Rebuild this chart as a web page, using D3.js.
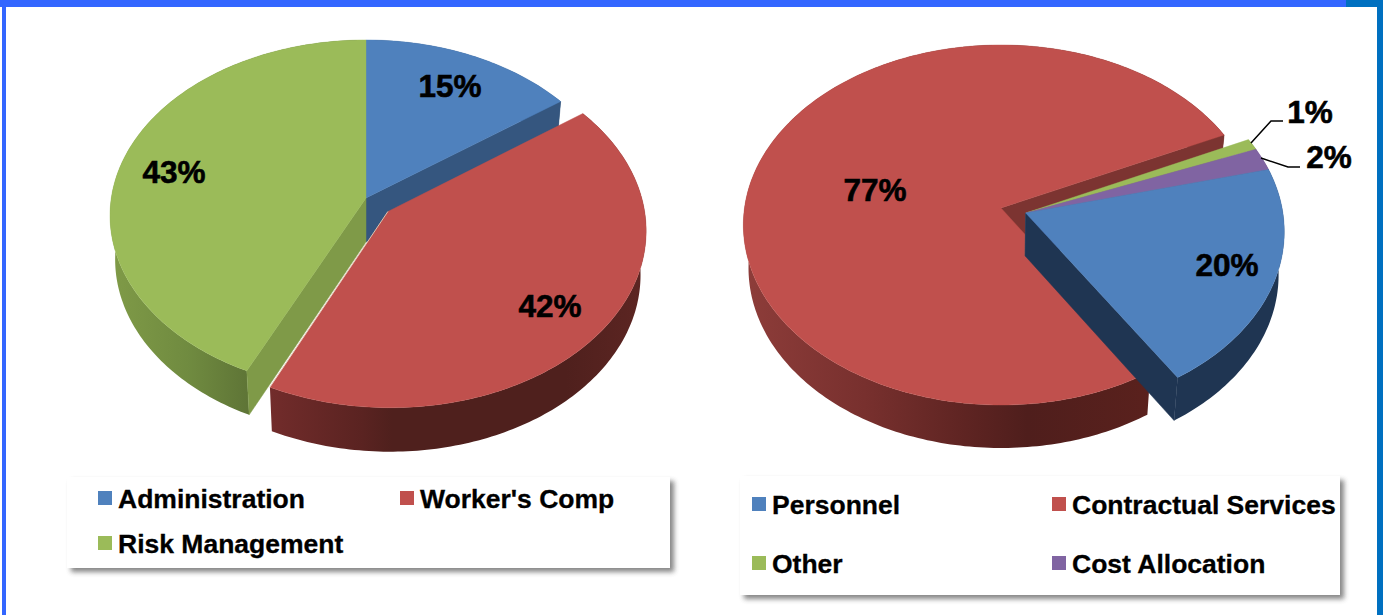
<!DOCTYPE html>
<html>
<head>
<meta charset="utf-8">
<script src="https://cdn.jsdelivr.net/npm/d3@7"></script>
<style>
html,body{margin:0;padding:0;background:#fff;overflow:hidden}
text{font-family:"Liberation Sans",Arial,sans-serif;font-weight:700;fill:#000;stroke:#000}
</style>
</head>
<body>
<svg id="chart" width="1387" height="615"></svg>
<script>
// ---- data ----
const fundCategories = ["Administration", "Worker's Comp", "Risk Management"];
const fundValues = [15, 42, 43];
const expenseCategories = ["Personnel", "Contractual Services", "Other", "Cost Allocation"];
const expenseValues = [20, 77, 1, 2];
const tickLabelSuffix = "%";

// ---- styles ----
const fundColors = ["#4f81bd", "#c0504d", "#9bbb59"];
const expenseColors = ["#4f81bd", "#c0504d", "#9bbb59", "#8064a2"];

const deg = Math.PI / 180;
const svg = d3.select("#chart");
const defs = svg.append("defs");

const shadow = defs.append("filter").attr("id", "shadow")
  .attr("x", "-5%").attr("y", "-10%").attr("width", "110%").attr("height", "125%");
shadow.append("feGaussianBlur").attr("stdDeviation", 2.6);

// page frame
svg.append("rect").attr("x", 2).attr("y", 0).attr("width", 4).attr("height", 615).attr("fill", "#3366ff");
svg.append("rect").attr("x", 0).attr("y", 0).attr("width", 1346).attr("height", 7).attr("fill", "#3366ff");
svg.append("rect").attr("x", 1346).attr("y", 0).attr("width", 37).attr("height", 7).attr("fill", "#0070c0");
svg.append("rect").attr("x", 1377).attr("y", 0).attr("width", 6).attr("height", 615).attr("fill", "#0070c0");

function gradient(id, x1, x2, stops) {
  const g = defs.append("linearGradient").attr("id", id)
    .attr("gradientUnits", "userSpaceOnUse")
    .attr("x1", x1).attr("x2", x2).attr("y1", 0).attr("y2", 0);
  stops.forEach(s => g.append("stop").attr("offset", s[0]).attr("stop-color", s[1]));
  return `url(#${id})`;
}

const lineGen = d3.line();

// Draws one 3D pie: the circle is projected with a perspective divide, so the near half looks larger.
function drawPie(cfg) {
  const pieGen = d3.pie().sort(null).value(d => d.value)
    .startAngle(cfg.start * deg).endAngle(cfg.start * deg + 2 * Math.PI);
  const arcs = pieGen(cfg.names.map((n, i) => ({name: n, value: cfg.values[i], index: i})));
  const color = d3.scaleOrdinal().domain(cfg.names).range(cfg.colors);
  const g = svg.append("g");

  const project = (X, Y, z) => {
    const w = 1 - cfg.k * Y;
    return [
      cfg.cx + cfg.rx * X / w * (z ? cfg.shrink : 1),
      cfg.cy + cfg.ry * Y / w + (z ? cfg.depth : 0)
    ];
  };

  const geom = arcs.map(a => {
    const ex = cfg.explode(a);
    const off = [ex.d * Math.sin(ex.a * deg), -ex.d * Math.cos(ex.a * deg)];
    const n = Math.max(2, Math.ceil((a.endAngle - a.startAngle) / (1 * deg)));
    const rim = d3.range(n + 1).map(i => {
      const t = a.startAngle + (a.endAngle - a.startAngle) * i / n;
      return [Math.sin(t) + off[0], -Math.cos(t) + off[1]];
    });
    return {a, off, rim};
  });

  cfg.order.forEach(i => {
    const {a, off, rim} = geom[i];
    const name = a.data.name;
    const top = rim.map(p => project(p[0], p[1], 0));
    const bot = rim.map(p => project(p[0], p[1], 1));
    const apexT = project(off[0], off[1], 0);
    const apexB = project(off[0], off[1], 1);
    const cut = cfg.cutFill[name];
    const outer = cfg.outerFill[name];
    // outer face
    g.append("path").attr("d", lineGen(top.concat(bot.slice().reverse())) + "Z").attr("fill", outer);
    // cut faces, only the ones turned toward the viewer
    const faces = [];
    if (Math.sin(a.startAngle) < 0) faces.push([top[0], bot[0]]);
    if (Math.sin(a.endAngle) > 0) faces.push([top[top.length - 1], bot[bot.length - 1]]);
    faces.forEach(e => {
      g.append("path").attr("d", lineGen([apexT, e[0], e[1], apexB]) + "Z")
        .attr("fill", cut).attr("stroke", cut).attr("stroke-width", 0.5);
    });
    // top face
    g.append("path").attr("d", lineGen([apexT].concat(top)) + "Z")
      .attr("fill", color(name)).attr("stroke", color(name)).attr("stroke-width", 0.4);
    if (cfg.edge && cfg.edge.name === name) {
      g.append("path").attr("d", lineGen([apexT, top[top.length - 1]]))
        .attr("fill", "none").attr("stroke", cfg.edge.color).attr("stroke-width", 0.8);
    }
  });

  return {arcs};
}

drawPie({
  names: fundCategories, values: fundValues, colors: fundColors,
  start: 0, cx: 366, cy: 198, rx: 254.7, ry: 173.8, k: 0.0997, depth: 44, shrink: 0.98,
  order: [0, 2, 1],
  explode: a => a.data.name === "Worker's Comp" ? {a: 132, d: 0.115} : {a: 0, d: 0},
  edge: {name: "Worker's Comp", color: "#eadfc8"},
  cutFill: {"Administration": "#35567f", "Worker's Comp": "#6f2b29", "Risk Management": "#7f9a48"},
  outerFill: {
    "Administration": "#35567f",
    "Worker's Comp": gradient("redL", 270, 640, [[0, "#722c2b"], [0.25, "#5a2321"], [0.33, "#4f201d"], [0.8, "#4f201d"], [1, "#5c2522"]]),
    "Risk Management": gradient("greenL", 112, 250, [[0, "#7f9a47"], [0.55, "#708b40"], [1, "#5e7436"]])
  }
});

drawPie({
  names: expenseCategories, values: expenseValues, colors: expenseColors,
  start: 75.6, cx: 1001, cy: 208, rx: 256.5, ry: 178.4, k: 0.0944, depth: 43, shrink: 0.98,
  order: [1, 2, 3, 0],
  explode: a => a.data.name === "Contractual Services" ? {a: 0, d: 0} : {a: 106.2, d: 0.1},
  cutFill: {"Personnel": "#1f3552", "Contractual Services": "#7c3431", "Other": "#7f9a48", "Cost Allocation": "#5f4a7c"},
  outerFill: {
    "Personnel": "#1f3552",
    "Contractual Services": gradient("redR", 742, 1150, [[0, "#8e3d3a"], [0.3, "#78302e"], [0.55, "#5e2422"], [0.7, "#4f1e1c"], [1, "#5a211d"]]),
    "Other": "#7f9a48", "Cost Allocation": "#5f4a7c"
  }
});

// percentage labels
const labelFont = 31.5;
const labels = [
  {v: fundValues[0], x: 450, y: 97},
  {v: fundValues[1], x: 550, y: 317},
  {v: fundValues[2], x: 174, y: 183},
  {v: expenseValues[1], x: 875, y: 201},
  {v: expenseValues[0], x: 1227, y: 276},
  {v: expenseValues[2], x: 1310, y: 123},
  {v: expenseValues[3], x: 1329, y: 168}
];
svg.append("g").selectAll("text").data(labels).join("text")
  .attr("x", d => d.x).attr("y", d => d.y)
  .attr("text-anchor", "middle").attr("font-size", labelFont).attr("stroke-width", 0.6)
  .text(d => d.v + tickLabelSuffix);

// leader lines
const leaders = [
  [[1251, 143], [1271, 121], [1283, 121]],
  [[1261, 158], [1288, 167], [1300, 167]]
];
svg.append("g").selectAll("path").data(leaders).join("path")
  .attr("d", d => lineGen(d)).attr("fill", "none").attr("stroke", "#000").attr("stroke-width", 1.5);

// legends
function legend(box, names, colors, cols, rows) {
  const g = svg.append("g");
  g.append("rect").attr("x", box.x + 4).attr("y", box.y + 4).attr("width", box.w).attr("height", box.h)
    .attr("fill", "#444").attr("opacity", 0.65).attr("filter", "url(#shadow)");
  g.append("rect").attr("x", box.x).attr("y", box.y).attr("width", box.w).attr("height", box.h)
    .attr("fill", "#fff");
  const item = g.selectAll("g").data(names).join("g")
    .attr("transform", (d, i) => `translate(${cols[i % 2]},${rows[Math.floor(i / 2)]})`);
  item.append("rect").attr("x", 0).attr("y", -17).attr("width", 14).attr("height", 14)
    .attr("fill", (d, i) => colors[i]);
  item.append("text").attr("x", 20).attr("y", 0).attr("font-size", 26.5).attr("stroke-width", 0.3).text(d => d);
}
legend({x: 67, y: 477, w: 603, h: 91}, fundCategories, fundColors, [98, 400], [508, 553]);
legend({x: 740, y: 476, w: 600, h: 119}, expenseCategories, expenseColors, [752, 1052], [514, 573]);
</script>
</body>
</html>
